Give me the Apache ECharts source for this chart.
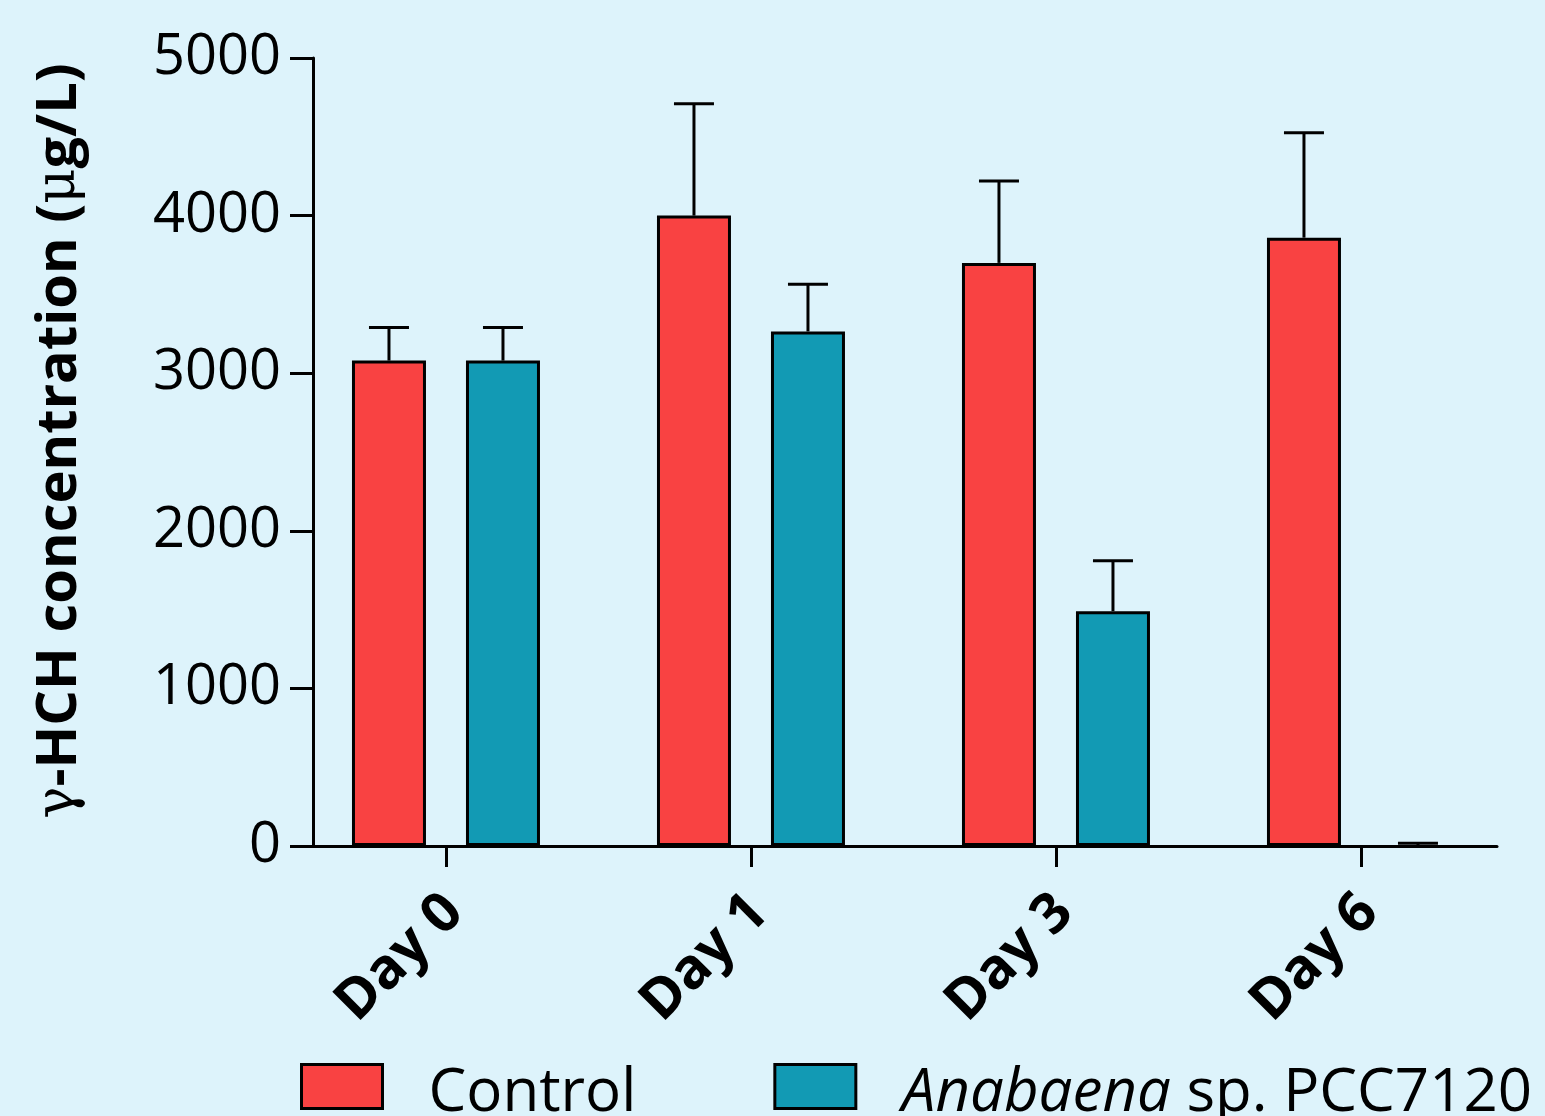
<!DOCTYPE html>
<html>
<head>
<meta charset="utf-8">
<script src="https://cdn.jsdelivr.net/npm/echarts@6/dist/echarts.min.js"></script>
<style>
html,body{margin:0;padding:0;background:#ddf3fb;}
#chart{width:1545px;height:1116px;}
</style>
</head>
<body>
<div id="chart"></div>
<script>
var categories = ['Day 0', 'Day 1', 'Day 3', 'Day 6'];
var controlValues = [3080, 4000, 3700, 3860];
var controlErrors = [210, 710, 520, 665];
var anabaenaValues = [3080, 3265, 1490, 0];
var anabaenaErrors = [210, 300, 320, 18];
var yTicks = [0, 1000, 2000, 3000, 4000, 5000];
var seriesNames = ['Control', 'Anabaena sp. PCC7120'];

var BAR_W = 74, BAR_GAP = 40, CAP_W = 40;
var FONT = '"Open Sans", sans-serif';

function pairs(vals) {
  return vals.map(function (v, i) {
    var d = { value: [i, v] };
    if (v === 0) d.itemStyle = { borderWidth: 0 };
    return d;
  });
}
function errPairs(vals, errs) { return vals.map(function (v, i) { return [i, v, errs[i]]; }); }

function errRender(sign) {
  return function (params, api) {
    var x = api.value(0), v = api.value(1), e = api.value(2);
    var base = api.coord([x, v]);
    var top = api.coord([x, v + e]);
    var cx = base[0] + sign * (BAR_W + BAR_GAP) / 2;
    var st = { stroke: '#000', lineWidth: 3, fill: null };
    return {
      type: 'group',
      children: [
        { type: 'line', shape: { x1: cx, y1: base[1], x2: cx, y2: top[1] }, style: st },
        { type: 'line', shape: { x1: cx - CAP_W / 2, y1: top[1], x2: cx + CAP_W / 2, y2: top[1] }, style: st }
      ]
    };
  };
}

var chart = echarts.init(document.getElementById('chart'), null, { renderer: 'canvas' });
chart.setOption({
  backgroundColor: '#ddf3fb',
  animation: false,
  textStyle: { fontFamily: FONT },
  grid: { left: 313, right: 48, top: 58, bottom: 270, containLabel: false, outerBoundsMode: 'none' },
  legend: {
    data: seriesNames,
    left: 300,
    top: 1063,
    padding: 0,
    icon: 'rect',
    itemWidth: 81,
    itemHeight: 44,
    itemGap: 137,
    itemStyle: { borderColor: '#000', borderWidth: 3 },
    formatter: function (name) {
      if (name === seriesNames[1]) return '{s|}{i|Anabaena} sp. PCC7120';
      return '{s|}' + name;
    },
    textStyle: {
      fontFamily: FONT, fontSize: 60, color: '#000', padding: [14, 0, 0, 0],
      rich: {
        s: { width: 41 },
        i: { fontFamily: FONT, fontSize: 60, fontStyle: 'italic', color: '#000' }
      }
    }
  },
  xAxis: {
    type: 'value',
    min: -0.436,
    max: 3.446,
    splitLine: { show: false },
    axisLine: { show: true, onZero: false, lineStyle: { color: '#000', width: 3 } },
    axisTick: { show: true, length: 21, lineStyle: { color: '#000', width: 3 }, customValues: [0, 1, 2, 3] },
    axisLabel: {
      customValues: [0, 1, 2, 3],
      rotate: 45,
      margin: 66,
      padding: [0, -12, 0, 0],
      fontFamily: FONT,
      fontWeight: 'bold',
      fontSize: 56,
      color: '#000',
      formatter: function (v) { return categories[Math.round(v)]; }
    }
  },
  yAxis: {
    type: 'value',
    min: yTicks[0],
    max: yTicks[yTicks.length - 1],
    interval: yTicks[1] - yTicks[0],
    splitLine: { show: false },
    axisLine: { show: true, onZero: false, lineStyle: { color: '#000', width: 3 } },
    axisTick: { show: true, length: 23, lineStyle: { color: '#000', width: 3 } },
    axisLabel: {
      margin: 32, fontFamily: FONT, fontSize: 56, color: '#000',
      formatter: function (v) { return String(v); }
    },
    name: '{g|γ}-HCH concentration ({g|μ}g/L)',
    nameLocation: 'middle',
    nameGap: 225,
    nameTextStyle: {
      fontFamily: FONT, fontWeight: 'bold', fontSize: 56, color: '#000', padding: [0, 0, 0, 22],
      rich: {
        g: { fontFamily: '"DejaVu Serif", serif', fontWeight: 'normal', fontSize: 54, color: '#000' }
      }
    }
  },
  series: [
    {
      name: seriesNames[0], type: 'bar', data: pairs(controlValues),
      barWidth: BAR_W, barGap: (BAR_GAP / BAR_W * 100) + '%',
      itemStyle: { color: '#f94242', borderColor: '#000', borderWidth: 3 }
    },
    {
      name: seriesNames[1], type: 'bar', data: pairs(anabaenaValues),
      barWidth: BAR_W, barGap: (BAR_GAP / BAR_W * 100) + '%',
      itemStyle: { color: '#129ab4', borderColor: '#000', borderWidth: 3 }
    },
    {
      name: 'errControl', type: 'custom', z: 5, data: errPairs(controlValues, controlErrors),
      renderItem: errRender(-1), encode: { x: 0, y: [1, 2] }
    },
    {
      name: 'errAnabaena', type: 'custom', z: 5, data: errPairs(anabaenaValues, anabaenaErrors),
      renderItem: errRender(1), encode: { x: 0, y: [1, 2] }
    }
  ]
});
</script>
</body>
</html>
